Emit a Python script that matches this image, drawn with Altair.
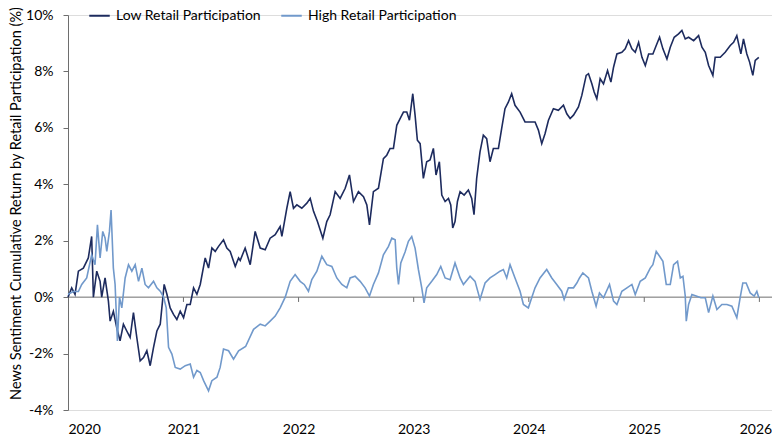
import altair as alt
import pandas as pd

# ---- data (decimal year, cumulative return %) ----
low_t = [2020.000, 2020.032, 2020.061, 2020.090, 2020.133, 2020.176, 2020.205, 2020.220, 2020.249, 2020.278,
         2020.292, 2020.321, 2020.350, 2020.365, 2020.393, 2020.422, 2020.451, 2020.480, 2020.509, 2020.538,
         2020.567, 2020.596, 2020.625, 2020.654, 2020.683, 2020.712, 2020.741, 2020.770, 2020.799, 2020.833,
         2020.857, 2020.885, 2020.914, 2020.943, 2020.972, 2021.001, 2021.030, 2021.059, 2021.088, 2021.117,
         2021.146, 2021.189, 2021.218, 2021.247, 2021.276, 2021.305, 2021.348, 2021.377, 2021.406, 2021.450,
         2021.479, 2021.493, 2021.536, 2021.580, 2021.623, 2021.667, 2021.710, 2021.753, 2021.797, 2021.840,
         2021.855, 2021.898, 2021.927, 2021.956, 2021.985, 2022.028, 2022.072, 2022.101, 2022.130, 2022.164,
         2022.211, 2022.245, 2022.274, 2022.318, 2022.361, 2022.405, 2022.442, 2022.477, 2022.520, 2022.564,
         2022.593, 2022.616, 2022.650, 2022.694, 2022.737, 2022.766, 2022.795, 2022.824, 2022.853, 2022.882,
         2022.911, 2022.940, 2022.963, 2022.992, 2023.012, 2023.032, 2023.056, 2023.084, 2023.113, 2023.142,
         2023.171, 2023.194, 2023.223, 2023.244, 2023.273, 2023.302, 2023.322, 2023.339, 2023.359, 2023.380,
         2023.403, 2023.438, 2023.475, 2023.504, 2023.524, 2023.547, 2023.576, 2023.605, 2023.634, 2023.663,
         2023.692, 2023.736, 2023.764, 2023.793, 2023.822, 2023.851, 2023.880, 2023.924, 2023.967, 2024.010,
         2024.054, 2024.083, 2024.112, 2024.141, 2024.170, 2024.213, 2024.256, 2024.300, 2024.329, 2024.358,
         2024.387, 2024.430, 2024.459, 2024.497, 2024.517, 2024.546, 2024.566, 2024.589, 2024.618, 2024.647,
         2024.682, 2024.711, 2024.734, 2024.763, 2024.806, 2024.835, 2024.864, 2024.893, 2024.922, 2024.951,
         2024.980, 2025.009, 2025.038, 2025.075, 2025.104, 2025.133, 2025.162, 2025.197, 2025.226, 2025.260,
         2025.298, 2025.327, 2025.356, 2025.385, 2025.429, 2025.472, 2025.501, 2025.530, 2025.559, 2025.596,
         2025.616, 2025.660, 2025.703, 2025.747, 2025.776, 2025.804, 2025.839, 2025.862, 2025.891, 2025.915,
         2025.943, 2025.964, 2025.995]
low_v = [0.00, 0.33, 0.10, 0.92, 1.03, 1.39, 2.15, 0.00, 0.92, 0.56,
         0.00, 0.68, -0.14, -0.85, -0.50, -1.08, -1.55, -0.96, -1.20, -1.43,
         -0.55, -1.43, -2.26, -2.14, -1.90, -2.43, -1.78, -1.20, -0.96, 0.45,
         0.10, -0.38, -0.61, -0.79, -0.50, -0.73, -0.26, -0.26, 0.33, 0.10,
         0.45, 1.39, 1.03, 1.74, 1.62, 1.80, 2.03, 1.74, 1.62, 1.09,
         1.39, 1.30, 1.74, 1.15, 2.33, 1.74, 1.68, 2.09, 2.21, 2.50,
         2.15, 3.15, 3.74, 3.15, 3.27, 3.15, 3.33, 3.50, 3.04, 2.68,
         2.09, 2.68, 2.92, 3.74, 3.50, 3.86, 4.33, 3.39, 3.74, 3.56,
         3.27, 2.56, 3.74, 3.86, 4.91, 5.03, 5.27, 5.27, 6.09, 6.33,
         6.56, 6.56, 6.27, 7.21, 6.45, 5.56, 5.44, 4.21, 4.80, 4.86,
         5.27, 4.33, 4.80, 3.62, 3.39, 3.50, 3.27, 2.45, 2.68, 3.39,
         3.74, 3.62, 3.80, 3.50, 2.92, 4.21, 5.15, 5.74, 5.62, 4.80,
         5.27, 5.27, 5.97, 6.68, 6.91, 7.21, 6.80, 6.56, 6.21, 6.21,
         6.21, 5.92, 5.44, 5.80, 6.27, 6.68, 6.62, 6.80, 6.50, 6.33,
         6.45, 6.74, 7.15, 7.86, 7.92, 7.56, 7.27, 7.03, 7.74, 7.56,
         8.03, 7.62, 8.15, 8.62, 8.68, 8.80, 9.09, 8.80, 8.68, 9.03,
         8.50, 8.21, 8.62, 8.62, 8.92, 9.21, 8.80, 8.44, 8.86, 9.21,
         9.33, 9.45, 9.15, 9.21, 9.09, 9.27, 8.86, 8.68, 8.21, 7.86,
         8.50, 8.50, 8.68, 8.92, 9.03, 9.27, 8.62, 9.15, 8.62, 8.33,
         7.86, 8.39, 8.50]

high_t = [2020.000, 2020.046, 2020.090, 2020.119, 2020.162, 2020.205, 2020.234, 2020.255, 2020.278, 2020.301,
          2020.321, 2020.336, 2020.359, 2020.373, 2020.393, 2020.408, 2020.428, 2020.446, 2020.466, 2020.495,
          2020.524, 2020.553, 2020.582, 2020.611, 2020.640, 2020.668, 2020.697, 2020.741, 2020.770, 2020.799,
          2020.828, 2020.851, 2020.871, 2020.900, 2020.929, 2020.972, 2021.016, 2021.059, 2021.088, 2021.117,
          2021.146, 2021.175, 2021.218, 2021.247, 2021.291, 2021.319, 2021.348, 2021.392, 2021.435, 2021.479,
          2021.540, 2021.609, 2021.667, 2021.710, 2021.753, 2021.797, 2021.840, 2021.884, 2021.927, 2021.970,
          2022.014, 2022.049, 2022.086, 2022.115, 2022.159, 2022.202, 2022.245, 2022.289, 2022.332, 2022.376,
          2022.419, 2022.448, 2022.491, 2022.535, 2022.578, 2022.616, 2022.650, 2022.694, 2022.737, 2022.781,
          2022.810, 2022.839, 2022.853, 2022.868, 2022.888, 2022.925, 2022.954, 2022.983, 2023.012, 2023.041,
          2023.070, 2023.090, 2023.113, 2023.157, 2023.200, 2023.235, 2023.273, 2023.316, 2023.359, 2023.403,
          2023.432, 2023.490, 2023.533, 2023.576, 2023.620, 2023.663, 2023.707, 2023.750, 2023.779, 2023.808,
          2023.837, 2023.880, 2023.924, 2023.953, 2023.996, 2024.025, 2024.054, 2024.097, 2024.155, 2024.199,
          2024.242, 2024.285, 2024.306, 2024.343, 2024.387, 2024.416, 2024.439, 2024.468, 2024.517, 2024.546,
          2024.583, 2024.612, 2024.647, 2024.699, 2024.734, 2024.763, 2024.806, 2024.850, 2024.893, 2024.922,
          2024.965, 2025.009, 2025.052, 2025.075, 2025.104, 2025.133, 2025.162, 2025.191, 2025.226, 2025.255,
          2025.289, 2025.313, 2025.336, 2025.356, 2025.365, 2025.385, 2025.414, 2025.451, 2025.492, 2025.530,
          2025.559, 2025.596, 2025.631, 2025.674, 2025.718, 2025.761, 2025.804, 2025.833, 2025.856, 2025.885,
          2025.920, 2025.955, 2025.978, 2025.995]
high_v = [0.10, 0.20, 0.20, 0.45, 0.68, 1.50, 1.15, 2.56, 1.39, 2.33,
          2.10, 1.62, 2.33, 3.09, 1.03, 0.45, -1.55, 0.00, -0.38, 0.68,
          1.15, 0.92, 1.15, 0.56, 1.03, 0.45, 0.33, 0.56, 0.33, 0.21,
          0.00, -0.38, -1.78, -2.02, -2.49, -2.55, -2.43, -2.37, -2.84, -2.60,
          -2.67, -2.96, -3.32, -2.96, -2.84, -2.49, -1.84, -1.90, -2.20, -1.90,
          -1.75, -1.14, -0.96, -1.02, -0.85, -0.67, -0.38, 0.00, 0.56, 0.80,
          0.56, 0.45, 0.21, 0.62, 0.92, 1.45, 1.15, 1.09, 0.68, 0.45,
          0.33, 0.68, 0.74, 0.56, 0.33, 0.04, 0.45, 0.86, 1.50, 1.80,
          2.09, 2.03, 1.03, 0.45, 1.21, 1.60, 1.98, 2.15, 1.74, 0.98,
          0.33, -0.20, 0.33, 0.56, 0.80, 1.09, 0.68, 0.62, 1.21, 0.68,
          0.45, 0.74, 0.56, -0.08, 0.50, 0.68, 0.80, 0.92, 0.98, 0.68,
          1.15, 0.68, 0.21, -0.26, -0.38, -0.02, 0.33, 0.68, 0.98, 0.68,
          0.45, 0.21, -0.08, 0.33, 0.33, 0.50, 0.68, 0.86, 0.68, 0.21,
          -0.32, 0.15, -0.02, 0.45, -0.14, -0.26, 0.21, 0.33, 0.45, 0.09,
          0.56, 0.68, 1.03, 1.15, 1.62, 1.45, 1.27, 0.45, 0.45, 1.15,
          1.27, 0.68, 0.74, 0.04, -0.85, -0.26, 0.09, 0.04, -0.02, -0.02,
          -0.55, 0.04, -0.44, -0.26, -0.26, -0.32, -0.73, -0.02, 0.50, 0.50,
          0.15, 0.04, 0.21, -0.02]

series_names = ["Low Retail Participation", "High Retail Participation"]
series_colors = ["#1d2b5e", "#7199cb"]
tick_years = ["2020", "2021", "2022", "2023", "2024", "2025", "2026"]
y_ticks = [-4, -2, 0, 2, 4, 6, 8, 10]


def to_date(t):
    y = int(t)
    start = pd.Timestamp(year=y, month=1, day=1)
    end = pd.Timestamp(year=y + 1, month=1, day=1)
    return start + (end - start) * (t - y)


rows = []
for name, ts, vs in [(series_names[0], low_t, low_v), (series_names[1], high_t, high_v)]:
    for t, v in zip(ts, vs):
        rows.append({"date": to_date(t), "value": v, "series": name})
df = pd.DataFrame(rows)

ticks_df = pd.DataFrame({"date": [pd.Timestamp(f"{y}-01-01") for y in tick_years[1:]]})

FONT = "Lato"
x_dom = [pd.Timestamp("2020-01-01").isoformat(), pd.Timestamp("2026-02-10").isoformat()]

xscale = alt.Scale(domain=x_dom)
yscale = alt.Scale(domain=[-4, 10], nice=False, zero=False)

lines = alt.Chart(df).mark_line(strokeWidth=1.6).encode(
    x=alt.X("date:T", scale=xscale,
            axis=alt.Axis(values=[f"{y}-01-01" for y in tick_years], format="%Y", title=None,
                          domain=False, ticks=False, grid=False, labelPadding=12,
                          labelOffset={"expr": "year(datum.value) >= 2026 ? -4 : 0"},
                          labelFontSize=14, labelFont=FONT, labelColor="#000000")),
    y=alt.Y("value:Q", scale=yscale,
            axis=alt.Axis(values=y_ticks, labelExpr="datum.value + '%'", grid=False,
                          domainColor="#6e6e6e", tickColor="#6e6e6e", tickSize=5,
                          labelPadding=10, labelFontSize=14, labelFont=FONT, labelColor="#000000",
                          title="News Sentiment Cumulative Return by Retail Participation (%)",
                          titleFont=FONT, titleFontSize=14.5, titleFontWeight="normal",
                          titleColor="#000000", titleAngle=270, titleX=-52, titleY=188,
                          titleAlign="center", titleBaseline="middle")),
    color=alt.Color("series:N", scale=alt.Scale(domain=series_names, range=series_colors),
                    legend=alt.Legend(title=None, orient="none", legendX=20, legendY=-11,
                                      direction="horizontal", symbolType="stroke",
                                      symbolSize=420, symbolStrokeWidth=2, labelFont=FONT,
                                      labelFontSize=14, labelColor="#000000", columnPadding=16,
                                      labelOffset=5, padding=0)),
    order=alt.Order("series:N", sort="ascending"),
)

zero = alt.Chart(pd.DataFrame({"v": [0]})).mark_rule(color="#6e6e6e", strokeWidth=1).encode(
    y=alt.Y("v:Q", scale=yscale)
)

yticks = alt.Chart(ticks_df).mark_rule(color="#6e6e6e", strokeWidth=1).encode(
    x=alt.X("date:T", scale=xscale),
    y=alt.datum(0),
    y2=alt.datum(-0.17),
)

chart = alt.layer(zero, yticks, lines).properties(
    width=704, height=395,
    autosize=alt.AutoSizeParams(type="none"),
    padding={"left": 60, "top": 7, "right": 0, "bottom": 30},
).configure_view(stroke=None).configure(font=FONT)

chart.save("out.html", embed_options={"renderer": "svg", "actions": False})
